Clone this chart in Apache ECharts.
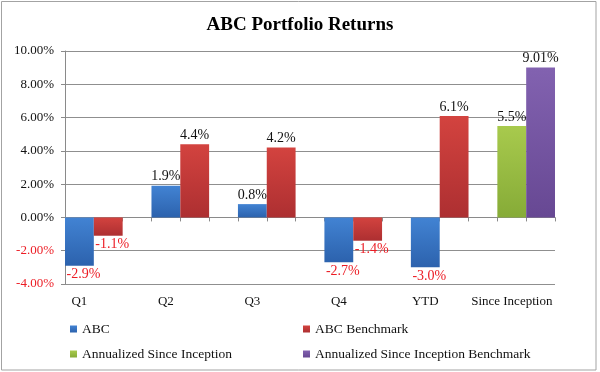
<!DOCTYPE html>
<html>
<head>
<meta charset="utf-8">
<script src="https://cdn.jsdelivr.net/npm/echarts@6/dist/echarts.min.js"></script>
<style>html,body{margin:0;padding:0;background:#fff}#c{width:600px;height:372px}</style>
</head>
<body>
<div id="c"></div>
<script>
const categories = ['Q1', 'Q2', 'Q3', 'Q4', 'YTD', 'Since Inception'];
const abc = [-2.9, 1.9, 0.8, -2.7, -3.0, null];
const abcBenchmark = [-1.1, 4.4, 4.2, -1.4, 6.1, null];
const annualized = [null, null, null, null, null, 5.5];
const annualizedBenchmark = [null, null, null, null, null, 9.01];
const seriesNames = ['ABC', 'ABC Benchmark', 'Annualized Since Inception', 'Annualized Since Inception Benchmark'];
const yTicks = [-4, -2, 0, 2, 4, 6, 8, 10];

const FONT = 'Liberation Serif';
const RED = '#ec1c24';
const BLACK = '#111';

// Build slot layout: each category gets a left slot, a right slot and a gap slot (except the last)
const slotIds = [];
const slotLabels = [];
const slotOf = []; // [categoryIndex, side]
categories.forEach((c, i) => {
  slotIds.push(c + '#L'); slotLabels.push(c); slotOf.push([i, 0]);
  slotIds.push(c + '#R'); slotLabels.push(''); slotOf.push([i, 1]);
  if (i < categories.length - 1) { slotIds.push(c + '#G'); slotLabels.push(''); slotOf.push([i, 2]); }
});

function fmt(v) {
  const s = (Math.round(v * 10) / 10 === v) ? v.toFixed(1) : v.toFixed(2);
  return s + '%';
}
function toSlots(arr, side) {
  return slotOf.map(([ci, sd]) => {
    const v = sd === side ? arr[ci] : null;
    if (v === null || v === undefined) return null;
    return {
      value: v,
      label: v < 0
        ? { position: 'bottom', color: RED, offset: [4, 0] }
        : { position: 'top', color: BLACK }
    };
  });
}
function grad(top, bottom) {
  return { type: 'linear', x: 0, y: 0, x2: 0, y2: 1, colorStops: [{ offset: 0, color: top }, { offset: 1, color: bottom }] };
}
const colors = [
  grad('#4283d3', '#2c62ad'),
  grad('#d3433f', '#ad2f31'),
  grad('#a8ca4d', '#86ab37'),
  grad('#8262b0', '#674893')
];
const legendColors = ['#3a74c4', '#c0393b', '#97bf45', '#7756a3'];

const seriesData = [toSlots(abc, 0), toSlots(abcBenchmark, 1), toSlots(annualized, 0), toSlots(annualizedBenchmark, 1)];

const chart = echarts.init(document.getElementById('c'), null, { renderer: 'canvas' });
const legendPos = [[70, 322], [303, 322], [70, 347], [303, 347]];

chart.setOption({
  animation: false,
  title: {
    text: 'ABC Portfolio Returns', left: 'center', top: 11,
    textStyle: { fontFamily: FONT, fontWeight: 'bold', fontSize: 19, color: '#000' }
  },
  legend: seriesNames.map((n, i) => ({
    data: [n], left: legendPos[i][0], top: legendPos[i][1], padding: 0,
    itemWidth: 7, itemHeight: 7, icon: 'rect',
    textStyle: { fontFamily: FONT, fontSize: 13.5, color: '#111' }
  })),
  grid: { left: 65, right: 45, top: 51, bottom: 88 },
  xAxis: [{
    type: 'category', data: slotIds, position: 'bottom',
    axisLine: { show: false, onZero: false }, axisTick: { show: false },
    axisLabel: {
      interval: 0, margin: 11, fontFamily: FONT, fontSize: 13, color: '#111',
      formatter: (v, idx) => slotLabels[idx]
    }
  }, {
    type: 'category', data: slotIds, position: 'top',
    axisLine: { show: true, onZero: true, lineStyle: { color: '#8a8a8a', width: 1 } },
    axisTick: { show: true, inside: true, length: 4, interval: 0, lineStyle: { color: '#8a8a8a' } },
    axisLabel: { show: false }
  }],
  yAxis: {
    type: 'value', min: yTicks[0], max: yTicks[yTicks.length - 1], interval: 2,
    axisLine: { show: true, lineStyle: { color: '#8a8a8a' } },
    axisTick: { show: true, length: 4, lineStyle: { color: '#8a8a8a' } },
    splitLine: { show: true, lineStyle: { color: '#8f8f8f', width: 1 } },
    axisLabel: {
      margin: 11, fontFamily: FONT, fontSize: 13,
      formatter: v => v.toFixed(2) + '%',
      color: v => (Number(v) < 0 ? RED : BLACK)
    }
  },
  series: seriesNames.map((n, i) => ({
    name: n, type: 'bar', stack: 'all', barCategoryGap: '0%', barWidth: '100%',
    itemStyle: { color: colors[i] },
    data: seriesData[i],
    label: {
      show: true, distance: 2, fontFamily: FONT, fontSize: 14,
      formatter: p => fmt(p.value)
    }
  })),
  color: legendColors,
  graphic: [{
    type: 'rect', z: -10, silent: true,
    shape: { x: 1.5, y: 1.5, width: 594.5, height: 368.5 },
    style: { fill: 'none', stroke: '#a3a3a3', lineWidth: 1 }
  }]
});
</script>
</body>
</html>
